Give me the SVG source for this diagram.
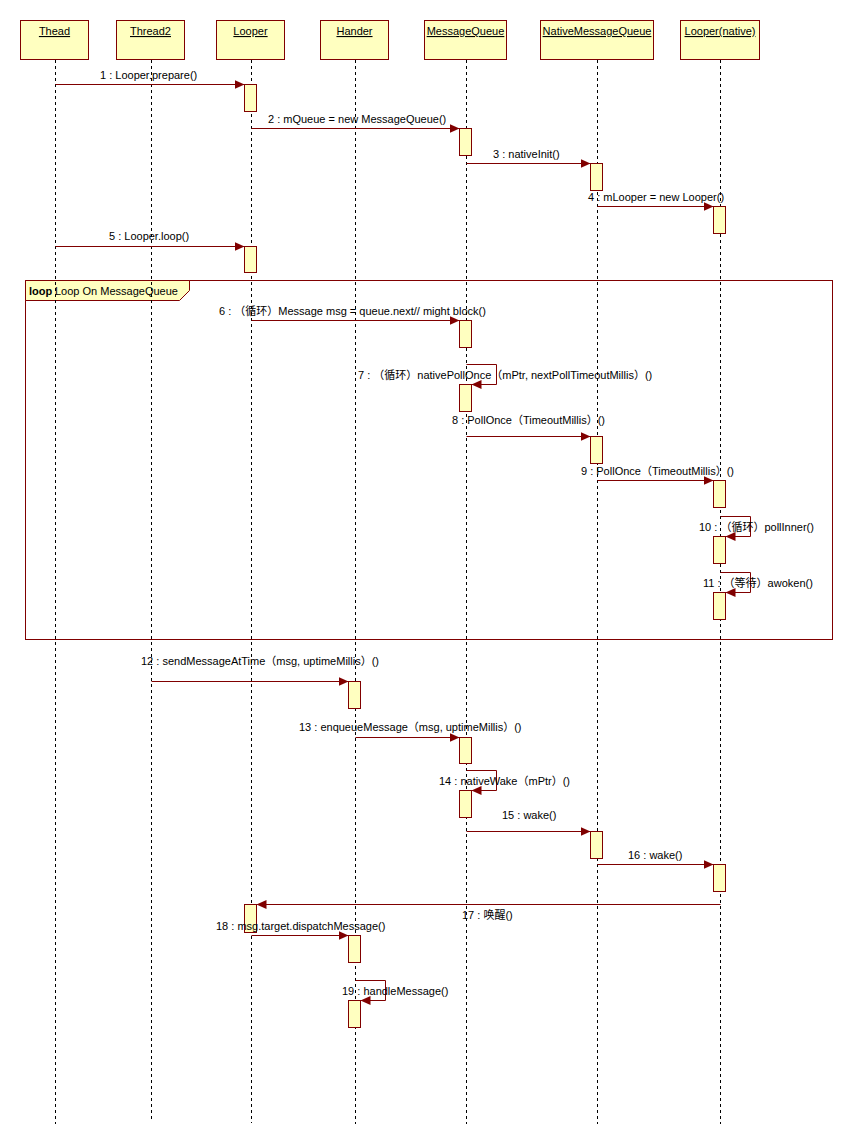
<svg xmlns="http://www.w3.org/2000/svg" width="852" height="1148" viewBox="0 0 852 1148">
<style>
.hdr{fill:#FFFFC0;stroke:#800000;stroke-width:1}
.ht{font-family:"Liberation Sans","Noto Sans CJK SC",sans-serif;font-size:11px;fill:#000;text-anchor:middle;text-decoration:underline}
.life{stroke:#000;stroke-width:1;stroke-dasharray:3,3;fill:none}
.act{fill:#FFFFC0;stroke:#800000;stroke-width:1}
.msg{stroke:#800000;stroke-width:1;fill:none}
.lbl{font-family:"Liberation Sans","Noto Sans CJK SC",sans-serif;font-size:11px;fill:#000}
.frame{fill:none;stroke:#800000;stroke-width:1}
.tab{fill:#FFFFC0;stroke:#800000;stroke-width:1}
</style>
<defs>
<marker id="arr" markerUnits="userSpaceOnUse" markerWidth="11" markerHeight="9" refX="10" refY="4.5" orient="auto">
<path d="M0,0 L10,4.5 L0,9 z" fill="#800000"/>
</marker>
</defs>
<rect width="852" height="1148" fill="#fff"/>

<g id="loop-frame">
<rect class="frame" x="25.5" y="280.5" width="807" height="359"/>
<polygon class="tab" points="25.5,280.5 189.5,280.5 189.5,290.5 179.5,300.5 25.5,300.5"/>
<text x="29" y="295" class="lbl" font-weight="bold">loop</text>
<text x="55" y="295" class="lbl">Loop On MessageQueue</text>
</g>

<g id="thead">
<rect class="hdr" x="20.5" y="20.5" width="68" height="39"/>
<text class="ht" x="54.5" y="35">Thead</text>
<line class="life" x1="55.5" y1="60" x2="55.5" y2="1124"/>
</g>
<g id="thread2">
<rect class="hdr" x="116.5" y="20.5" width="68" height="39"/>
<text class="ht" x="150.5" y="35">Thread2</text>
<line class="life" x1="151.5" y1="60" x2="151.5" y2="1119"/>
</g>
<g id="looper">
<rect class="hdr" x="216.5" y="20.5" width="68" height="39"/>
<text class="ht" x="250.5" y="35">Looper</text>
<line class="life" x1="251.5" y1="60" x2="251.5" y2="1123"/>
</g>
<g id="hander">
<rect class="hdr" x="320.5" y="20.5" width="68" height="39"/>
<text class="ht" x="354.5" y="35">Hander</text>
<line class="life" x1="355.5" y1="60" x2="355.5" y2="1124"/>
</g>
<g id="messagequeue">
<rect class="hdr" x="424.5" y="20.5" width="82" height="39"/>
<text class="ht" x="465.5" y="35">MessageQueue</text>
<line class="life" x1="466.5" y1="60" x2="466.5" y2="1124"/>
</g>
<g id="nativemessagequeue">
<rect class="hdr" x="540.5" y="20.5" width="113" height="39"/>
<text class="ht" x="597" y="35">NativeMessageQueue</text>
<line class="life" x1="597.5" y1="60" x2="597.5" y2="1124"/>
</g>
<g id="looper-native">
<rect class="hdr" x="680.5" y="20.5" width="79" height="39"/>
<text class="ht" x="720" y="35">Looper(native)</text>
<line class="life" x1="720.5" y1="60" x2="720.5" y2="1124"/>
</g>

<g id="activations">
<rect class="act" x="244.5" y="84.5" width="12" height="27"/>
<rect class="act" x="459.5" y="128.5" width="12" height="27"/>
<rect class="act" x="590.5" y="163.5" width="12" height="27"/>
<rect class="act" x="713.5" y="206.5" width="12" height="27"/>
<rect class="act" x="244.5" y="246.5" width="12" height="26"/>
<rect class="act" x="459.5" y="320.5" width="12" height="27"/>
<rect class="act" x="459.5" y="384.5" width="12" height="27"/>
<rect class="act" x="590.5" y="436.5" width="12" height="27"/>
<rect class="act" x="713.5" y="480.5" width="12" height="27"/>
<rect class="act" x="713.5" y="536.5" width="12" height="27"/>
<rect class="act" x="713.5" y="592.5" width="12" height="27"/>
<rect class="act" x="348.5" y="681.5" width="12" height="27"/>
<rect class="act" x="459.5" y="737.5" width="12" height="26"/>
<rect class="act" x="459.5" y="790.5" width="12" height="27"/>
<rect class="act" x="590.5" y="831.5" width="12" height="27"/>
<rect class="act" x="713.5" y="864.5" width="12" height="27"/>
<rect class="act" x="244.5" y="904.5" width="12" height="28"/>
<rect class="act" x="348.5" y="935.5" width="12" height="27"/>
<rect class="act" x="348.5" y="1000.5" width="12" height="27"/>
</g>

<g id="connectors">
<line class="msg" x1="55.5" y1="84.5" x2="244.5" y2="84.5" marker-end="url(#arr)"/>
<line class="msg" x1="251.5" y1="128.5" x2="459.5" y2="128.5" marker-end="url(#arr)"/>
<line class="msg" x1="466.5" y1="163.5" x2="590.5" y2="163.5" marker-end="url(#arr)"/>
<line class="msg" x1="597.5" y1="206.5" x2="713.5" y2="206.5" marker-end="url(#arr)"/>
<line class="msg" x1="55.5" y1="246.5" x2="244.5" y2="246.5" marker-end="url(#arr)"/>
<line class="msg" x1="251.5" y1="320.5" x2="459.5" y2="320.5" marker-end="url(#arr)"/>
<polyline class="msg" points="466.5,364.5 496.5,364.5 496.5,384.5 471.5,384.5" marker-end="url(#arr)"/>
<line class="msg" x1="466.5" y1="436.5" x2="590.5" y2="436.5" marker-end="url(#arr)"/>
<line class="msg" x1="597.5" y1="480.5" x2="713.5" y2="480.5" marker-end="url(#arr)"/>
<polyline class="msg" points="720.5,516.5 750.5,516.5 750.5,536.5 725.5,536.5" marker-end="url(#arr)"/>
<polyline class="msg" points="720.5,572.5 750.5,572.5 750.5,592.5 725.5,592.5" marker-end="url(#arr)"/>
<line class="msg" x1="151.5" y1="681.5" x2="348.5" y2="681.5" marker-end="url(#arr)"/>
<line class="msg" x1="355.5" y1="737.5" x2="459.5" y2="737.5" marker-end="url(#arr)"/>
<polyline class="msg" points="466.5,770.5 496.5,770.5 496.5,790.5 471.5,790.5" marker-end="url(#arr)"/>
<line class="msg" x1="466.5" y1="831.5" x2="590.5" y2="831.5" marker-end="url(#arr)"/>
<line class="msg" x1="597.5" y1="864.5" x2="713.5" y2="864.5" marker-end="url(#arr)"/>
<line class="msg" x1="720.5" y1="904.5" x2="256.5" y2="904.5" marker-end="url(#arr)"/>
<line class="msg" x1="251.5" y1="935.5" x2="348.5" y2="935.5" marker-end="url(#arr)"/>
<polyline class="msg" points="355.5,980.5 385.5,980.5 385.5,1000.5 360.5,1000.5" marker-end="url(#arr)"/>
</g>

<g id="labels">
<text class="lbl" x="100" y="79">1 : Looper.prepare()</text>
<text class="lbl" x="268" y="123">2 : mQueue = new MessageQueue()</text>
<text class="lbl" x="493" y="158">3 : nativeInit()</text>
<text class="lbl" x="588" y="201">4 : mLooper = new Looper()</text>
<text class="lbl" x="109" y="240">5 : Looper.loop()</text>
<text class="lbl" x="219" y="315">6 : （循环）Message msg = queue.next// might block()</text>
<text class="lbl" x="358" y="379">7 : （循环）nativePollOnce（mPtr, nextPollTimeoutMillis）()</text>
<text class="lbl" x="452" y="424">8 : PollOnce（TimeoutMillis）()</text>
<text class="lbl" x="581" y="475">9 : PollOnce（TimeoutMillis）()</text>
<text class="lbl" x="699" y="531">10 : （循环）pollInner()</text>
<text class="lbl" x="703" y="587">11 : （等待）awoken()</text>
<text class="lbl" x="141" y="665">12 : sendMessageAtTime（msg, uptimeMillis）()</text>
<text class="lbl" x="299" y="731">13 : enqueueMessage（msg, uptimeMillis）()</text>
<text class="lbl" x="439" y="785">14 : nativeWake（mPtr）()</text>
<text class="lbl" x="502" y="819">15 : wake()</text>
<text class="lbl" x="628" y="859">16 : wake()</text>
<text class="lbl" x="462" y="919">17 : 唤醒()</text>
<text class="lbl" x="216" y="930">18 : msg.target.dispatchMessage()</text>
<text class="lbl" x="342" y="995">19 : handleMessage()</text>
</g>
</svg>
